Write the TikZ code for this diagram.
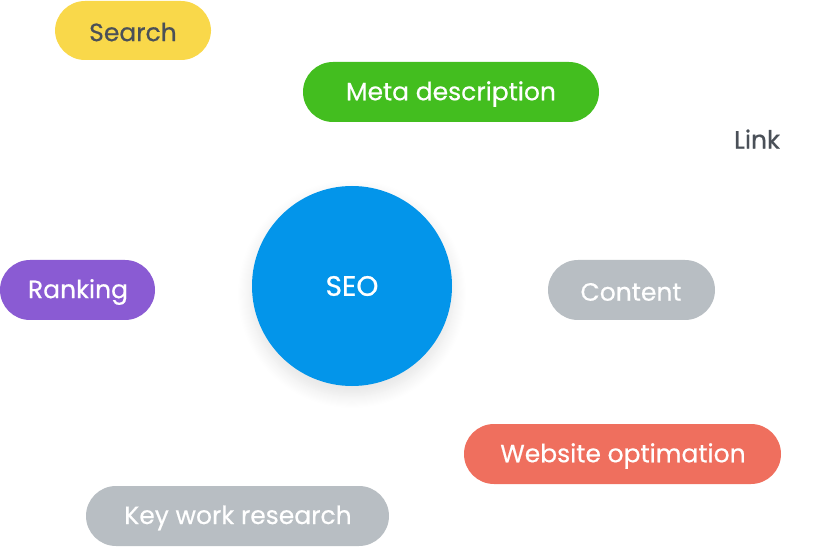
\documentclass[tikz,border=0pt]{standalone}
\usepackage{fontspec}
\setmainfont{Poppins}[FakeBold=0.6]
\usetikzlibrary{shadows.blur}
\definecolor{yel}{HTML}{F9D84A}
\definecolor{grn}{HTML}{43BE1F}
\definecolor{blu}{HTML}{0395EA}
\definecolor{pur}{HTML}{8A5BD3}
\definecolor{gry}{HTML}{B8BEC3}
\definecolor{cor}{HTML}{EF6F5E}
\definecolor{txt}{HTML}{4A5058}
\begin{document}
\begin{tikzpicture}[x=1pt,y=-1pt,
  pill/.style={rounded corners=30pt},
  lbl/.style={font=\fontsize{25}{28}\selectfont\addfontfeature{FakeBold=0.5}}]
\useasboundingbox (0,0) rectangle (820,548);
\fill[pill,yel] (55,1) rectangle (211,60);
\node[lbl,text=txt] (search) at (133,32) {Search};
\fill[pill,grn] (303,62) rectangle (599,122);
\node[lbl,text=white] (meta) at (451,94) {Meta description};
\node[lbl,text=txt] (link) at (757,139) {Link};
\node[circle,fill=blu,minimum size=200pt,text=white,font=\fontsize{28}{30}\selectfont\addfontfeature{FakeBold=0.7},blur shadow={shadow blur steps=14,shadow blur radius=14pt,shadow xshift=0pt,shadow yshift=-8pt,shadow opacity=12}] (seo) at (352,286) {SEO};
\fill[pill,pur] (0,260) rectangle (155,320);
\node[lbl,text=white] (rank) at (78,292) {Ranking};
\fill[pill,gry] (548,260) rectangle (715,320);
\node[lbl,text=white] (content) at (631,292) {Content};
\fill[pill,cor] (464,424) rectangle (781,484);
\node[lbl,text=white] (web) at (623,456) {Website optimation};
\fill[pill,gry] (86,486) rectangle (389,546);
\node[lbl,text=white] (key) at (238,518) {Key work research};
\end{tikzpicture}
\end{document}
